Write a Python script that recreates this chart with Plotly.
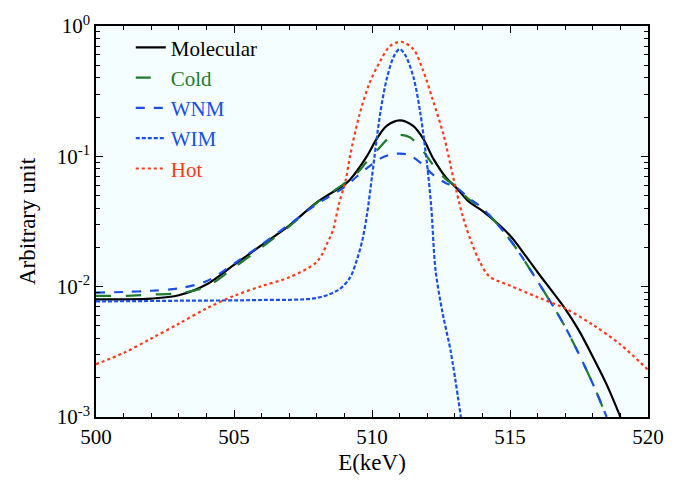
import plotly.graph_objects as go

# ---- data ----
E_mol = [500, 501, 502, 503, 504, 505, 506, 507, 508, 509, 509.2, 509.8, 510.17, 510.53, 511,
         511.49, 511.86, 512.22, 512.7, 513.07, 513.5, 514, 515, 515.5, 516, 517, 517.5, 518,
         518.5, 519]
molecular = [0.0080, 0.0080, 0.0081, 0.0086, 0.0104, 0.0147, 0.0208, 0.0294, 0.0443, 0.0605,
             0.066, 0.099, 0.136, 0.171, 0.189, 0.171, 0.136, 0.096, 0.068, 0.057, 0.045,
             0.0381, 0.0247, 0.018, 0.0129, 0.00676, 0.0046, 0.0029, 0.00178, 0.0010]

E_cold = [500, 501, 502, 503, 504, 505, 506, 507, 508, 509, 509.5, 509.81, 510.23, 510.65,
          511.01, 511.37, 511.79, 512.22, 512.7, 513.0, 513.5, 514, 515, 516, 517, 518, 518.5]
cold = [0.0085, 0.0085, 0.0087, 0.0089, 0.0100, 0.0140, 0.0200, 0.0290, 0.0440, 0.0620,
        0.076, 0.091, 0.114, 0.140, 0.146, 0.140, 0.114, 0.0856, 0.066, 0.060, 0.047, 0.040,
        0.0229, 0.011, 0.0049, 0.0018, 0.0010]

E_wnm = [500, 501, 502, 503, 504, 505, 506, 507, 508, 509, 509.45, 509.81, 510.29, 510.65,
         511.01, 511.37, 511.79, 512.22, 512.7, 513.0, 513.5, 514, 515, 516, 517, 518, 518.5]
wnm = [0.0090, 0.0091, 0.0093, 0.0097, 0.0110, 0.0150, 0.0210, 0.0300, 0.0430, 0.0580,
       0.070, 0.081, 0.096, 0.103, 0.105, 0.102, 0.088, 0.072, 0.062, 0.059, 0.048, 0.040,
       0.0229, 0.011, 0.0049, 0.0018, 0.0010]

E_wim = [500, 503, 506, 508, 508.8, 509.2, 509.45, 509.65, 509.82, 510.0, 510.3, 510.55,
         510.8, 511.0, 511.2, 511.5, 511.75, 512.0, 512.15, 512.3, 512.55, 512.85, 513.22]
wim = [0.0077, 0.0078, 0.0079, 0.0082, 0.0095, 0.0117, 0.016, 0.0227, 0.036, 0.070, 0.215,
       0.406, 0.59, 0.665, 0.60, 0.406, 0.215, 0.085, 0.040, 0.0135, 0.0064, 0.0032, 0.0010]

E_hot = [500, 501, 502, 503, 504, 505, 506, 507, 508, 508.4, 508.6, 508.8, 509.05, 509.2,
         509.55, 509.9, 510.3, 510.65, 511.05, 511.5, 511.85, 512.2, 512.6, 512.95, 513.3,
         513.6, 513.9, 514.25, 515, 516, 517, 518, 519, 520]
hot = [0.00254, 0.0031, 0.0040, 0.0052, 0.0068, 0.0085, 0.0101, 0.0118, 0.0155, 0.022,
       0.0278, 0.043, 0.066, 0.100, 0.21, 0.36, 0.54, 0.70, 0.757, 0.664, 0.456, 0.272,
       0.144, 0.068, 0.034, 0.022, 0.0156, 0.012, 0.0102, 0.0083, 0.0068, 0.0051, 0.0036,
       0.0023]

x_ticks = [500, 505, 510, 515, 520]
y_ticks = [1e-3, 1e-2, 1e-1, 1]
y_ticktext = ["10<sup>-3</sup>", "10<sup>-2</sup>", "10<sup>-1</sup>", "10<sup>0</sup>"]

C_BLACK = "#000000"
C_GREEN = "#1f7a2e"
C_BLUE = "#1a4fe6"
C_RED = "#ff3a1a"

FONT = "Liberation Serif"


def lbl(name, color):
    return f"<span style='color:{color}'>{name}</span>"


fig = go.Figure()
series = [
    ("Molecular", E_mol, molecular, C_BLACK, "solid", 2.2),
    ("Cold", E_cold, cold, C_GREEN, "longdash", 2.2),
    ("WNM", E_wnm, wnm, C_BLUE, "dash", 2.2),
    ("WIM", E_wim, wim, C_BLUE, "4px,2px", 2.2),
    ("Hot", E_hot, hot, C_RED, "dot", 2.2),
]
for name, xs, ys, col, dash, w in series:
    fig.add_trace(go.Scatter(
        x=xs, y=ys, mode="lines", name=lbl(name, col), legendgroup=name,
        line=dict(color=col, dash=dash, width=w, shape="spline", smoothing=0.9),
    ))

minor_y = []
for d in [1e-3, 1e-2, 1e-1]:
    for k in range(2, 10):
        minor_y.append(d * k)

fig.update_layout(
    width=683, height=485,
    margin=dict(l=96, r=35, t=18, b=68),
    paper_bgcolor="white",
    plot_bgcolor="#f5fefe",
    font=dict(family=FONT, size=20, color="black"),
    showlegend=True,
    legend=dict(
        x=0.063, y=0.997, xanchor="left", yanchor="top",
        bgcolor="rgba(0,0,0,0)", borderwidth=0,
        font=dict(family=FONT, size=21),
        tracegroupgap=0, traceorder="grouped",
        itemwidth=30,
    ),
)
fig.update_xaxes(
    range=[500, 520], tickvals=x_ticks, ticktext=[str(v) for v in x_ticks],
    ticks="inside", ticklen=7, tickwidth=1, tickcolor="black",
    showline=True, linecolor="black", linewidth=1.5, mirror="ticks",
    showgrid=False, zeroline=False,
    minor=dict(tickvals=list(range(500, 521)), ticks="inside", ticklen=4,
               tickcolor="black", showgrid=False),
    title=dict(text="E(keV)", font=dict(family=FONT, size=23), standoff=6),
    tickfont=dict(family=FONT, size=21),
)
fig.update_yaxes(
    type="log", range=[-3, 0], tickvals=y_ticks, ticktext=y_ticktext,
    ticks="inside", ticklen=7, tickwidth=1, tickcolor="black",
    showline=True, linecolor="black", linewidth=1.5, mirror="ticks",
    showgrid=False, zeroline=False,
    minor=dict(tickvals=minor_y, ticks="inside", ticklen=4,
               tickcolor="black", showgrid=False),
    title=dict(text="Arbitrary unit", font=dict(family=FONT, size=23), standoff=15),
    tickfont=dict(family=FONT, size=21),
)

fig.write_html("out.html")
